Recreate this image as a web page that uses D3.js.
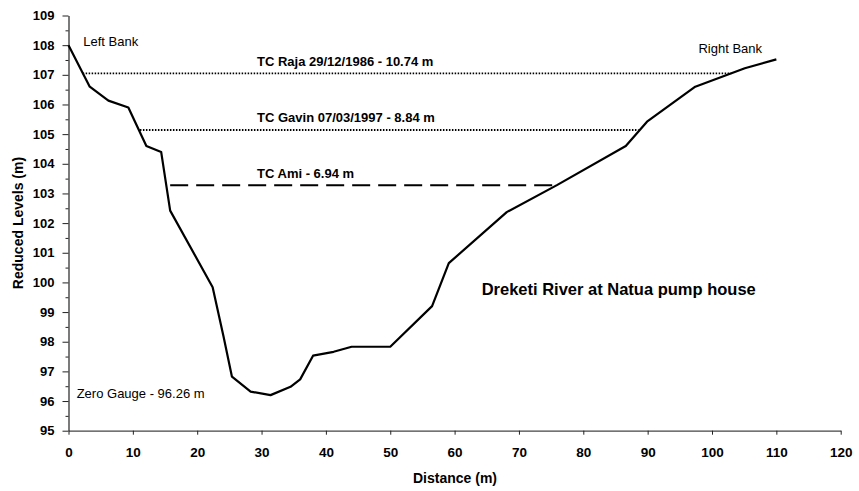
<!DOCTYPE html>
<html>
<head>
<meta charset="utf-8">
<script src="https://cdn.jsdelivr.net/npm/d3@7"></script>
<style>
  body { margin: 0; background: #fff; }
  text { font-family: "Liberation Sans", Arial, sans-serif; }
</style>
</head>
<body>
<div id="chart"></div>
<script>
// River cross-section profile
const distance = [0, 3.3, 6.2, 9.3, 12.1, 14.4, 15.8, 22.4, 24.1, 25.4, 28.3, 31.4, 34.5, 36.0, 38.0, 41.2, 44.0, 50.0, 56.5, 59.1, 68.1, 75.9, 86.6, 89.9, 97.4, 105.1, 110.0];
const level = [108.0, 106.6, 106.13, 105.9, 104.6, 104.4, 102.42, 99.84, 98.17, 96.82, 96.32, 96.2, 96.48, 96.73, 97.53, 97.66, 97.83, 97.83, 99.2, 100.65, 102.37, 103.28, 104.6, 105.42, 106.6, 107.22, 107.52];

// Flood levels
const floodLabels = ["TC Raja 29/12/1986 - 10.74 m", "TC Gavin 07/03/1997 - 8.84 m", "TC Ami - 6.94 m"];
const floodLevels = [107.05, 105.14, 103.28];
const floodStart = [2.2, 11.1, 15.8];
const floodEnd = [103.0, 88.6, 75.9];

const xTicks = d3.range(0, 121, 10);
const yTicks = d3.range(95, 110, 1);

const width = 859, height = 491;
const plotLeft = 68.5, plotRight = 840.7, plotTop = 15.5, plotBottom = 430.7;

const svg = d3.select("#chart")
    .append("svg")
    .attr("width", width)
    .attr("height", height);

const xScale = d3.scaleLinear().domain([0, 120]).range([plotLeft, plotRight]);
const yScale = d3.scaleLinear().domain([95, 109]).range([plotBottom, plotTop]);

// minor y ticks
svg.append("g")
    .attr("transform", `translate(${plotLeft},0)`)
    .call(d3.axisLeft(yScale).tickValues(d3.range(95.5, 109, 1)).tickSize(3).tickSizeOuter(0).tickFormat(""))
    .call(g => g.select(".domain").remove())
    .call(g => g.selectAll("line").attr("stroke", "#222"));

// y axis
svg.append("g")
    .attr("transform", `translate(${plotLeft},0)`)
    .call(d3.axisLeft(yScale).tickValues(yTicks).tickSize(6).tickSizeOuter(0).tickPadding(8))
    .call(g => g.select(".domain").attr("stroke", "#222").attr("stroke-width", 1.2))
    .call(g => g.selectAll("line").attr("stroke", "#222"))
    .call(g => g.selectAll("text")
        .attr("font-size", 13)
        .attr("font-weight", "bold")
        .attr("fill", "#000"));

// x axis
svg.append("g")
    .attr("transform", `translate(0,${plotBottom})`)
    .call(d3.axisBottom(xScale).tickValues(xTicks).tickSize(4).tickSizeOuter(0).tickPadding(13))
    .call(g => g.select(".domain").attr("stroke", "#444").attr("stroke-width", 1.2))
    .call(g => g.selectAll("line").attr("stroke", "#222"))
    .call(g => g.selectAll("text")
        .attr("font-size", 13.5)
        .attr("font-weight", "bold")
        .attr("fill", "#000"));

// axis titles
svg.append("text")
    .attr("x", 455)
    .attr("y", 483)
    .attr("text-anchor", "middle")
    .attr("font-size", 14)
    .attr("font-weight", "bold")
    .text("Distance (m)");

svg.append("text")
    .attr("transform", "translate(23,223) rotate(-90)")
    .attr("text-anchor", "middle")
    .attr("font-size", 14)
    .attr("font-weight", "bold")
    .text("Reduced Levels (m)");

// flood lines
const dashes = ["1.5,1.5", "1.5,1.5", "18,8"];
const widths = [1.8, 1.8, 2];
floodLevels.forEach((lv, i) => {
    svg.append("line")
        .attr("x1", xScale(floodStart[i]))
        .attr("x2", xScale(floodEnd[i]))
        .attr("y1", yScale(lv))
        .attr("y2", yScale(lv))
        .attr("stroke", "#000")
        .attr("stroke-width", widths[i])
        .attr("stroke-dasharray", dashes[i]);
    svg.append("text")
        .attr("x", xScale(29.3))
        .attr("y", yScale(lv) - 7.5)
        .attr("font-size", 13)
        .attr("font-weight", "bold")
        .text(floodLabels[i]);
});

// profile line
const points = distance.map((d, i) => [d, level[i]]);
svg.append("path")
    .datum(points)
    .attr("fill", "none")
    .attr("stroke", "#000")
    .attr("stroke-width", 2.2)
    .attr("stroke-linejoin", "round")
    .attr("d", d3.line().x(d => xScale(d[0])).y(d => yScale(d[1])));

// annotations
svg.append("text")
    .attr("x", xScale(2.3)).attr("y", yScale(107.98))
    .attr("font-size", 13)
    .text("Left Bank");

svg.append("text")
    .attr("x", xScale(97.9)).attr("y", yScale(107.73))
    .attr("font-size", 13)
    .text("Right Bank");

svg.append("text")
    .attr("x", xScale(1.27)).attr("y", yScale(96.09))
    .attr("font-size", 13)
    .text("Zero Gauge - 96.26 m");

svg.append("text")
    .attr("x", xScale(64.2)).attr("y", yScale(99.58))
    .attr("font-size", 16.5)
    .attr("font-weight", "bold")
    .text("Dreketi River at Natua pump house");
</script>
</body>
</html>
